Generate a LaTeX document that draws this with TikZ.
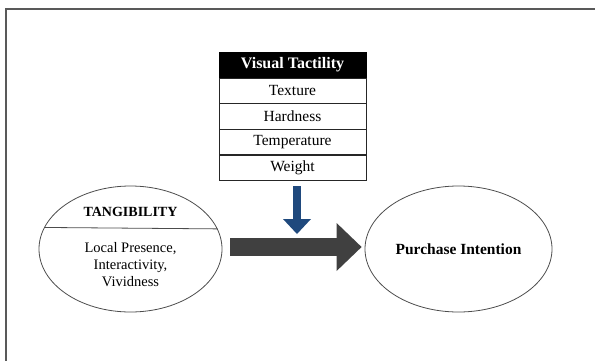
\documentclass[tikz,border=0pt]{standalone}
\usepackage{fontspec}
\setmainfont{Liberation Serif}
\usetikzlibrary{shapes.geometric, positioning}
\usetikzlibrary{arrows.meta}
\definecolor{arrowgray}{RGB}{64,64,64}
\definecolor{arrowblue}{RGB}{31,73,125}

\begin{document}
\begin{tikzpicture}[x=1pt, y=-1pt, font=\fontsize{14.5}{17}\selectfont, headcell/.style={rectangle, draw=black, fill=black, text=white, font=\fontsize{16}{17}\selectfont\bfseries, minimum width=147pt, minimum height=24.8pt, inner sep=0pt}, cell/.style={rectangle, draw=black!85, fill=white, font=\fontsize{15.5}{17}\selectfont, minimum width=147pt, minimum height=25.3pt, inner sep=0pt}, construct/.style={ellipse, draw=black!70, thick, inner sep=0pt}, bigarrow/.style={draw=arrowgray, line width=18pt, -{Triangle[length=25pt, width=48pt, line width=0pt]}}, modarrow/.style={draw=arrowblue, line width=8pt, -{Triangle[length=15pt, width=28pt, line width=0pt]}}]
    \useasboundingbox (0,0) rectangle (595,360);
    
    %Frame
    \draw[black!65, line width=1.3pt] (6,362) -- (6,9) -- (597,9);
    
    %Nodes
    \node[headcell](tactility) at (292.5,65){Visual Tactility};
    \node[cell](texture)[below=0pt of tactility]{Texture};
    \node[cell](hardness)[below=0pt of texture]{Hardness};
    \node[cell](temperature)[below=0pt of hardness]{Temperature};
    \node[cell](weight)[below=0pt of temperature]{Weight};
    \node[construct, minimum width=183pt, minimum height=126pt](tangible) at (130.5,249){};
    \node[font=\fontsize{14}{17}\selectfont\bfseries](tangtitle) at ([yshift=37pt]tangible.center){TANGIBILITY};
    \node[align=center](tangitems) at ([yshift=-16pt]tangible.center){Local Presence,\\Interactivity,\\Vividness};
    \node[construct, minimum width=187pt, minimum height=126pt, font=\fontsize{15.5}{17}\selectfont\bfseries](purchase) at (458.5,249){Purchase Intention};
    \coordinate (modpoint) at (297,234);
    
    %Lines
    \draw[black!70, thick] (tangible.166.3) -- (tangible.13.7);
    \draw[bigarrow, shorten <=8pt, shorten >=3pt] ([yshift=2pt]tangible.east) -- ([yshift=2pt]purchase.west);
    \draw[modarrow, shorten <=6pt] ([xshift=4.5pt]weight.south) -- (modpoint);
    
\end{tikzpicture}
\end{document}
